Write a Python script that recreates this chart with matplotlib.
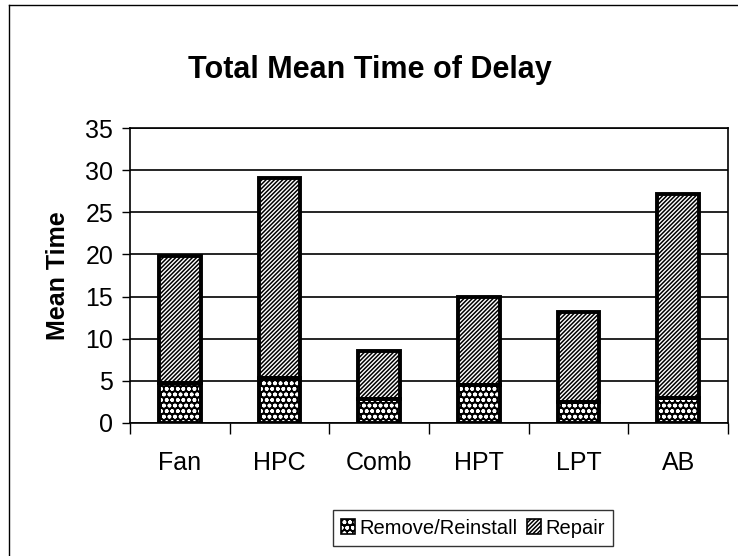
import matplotlib.pyplot as plt
import numpy as np
from matplotlib.lines import Line2D
from matplotlib.patches import Patch
from matplotlib.legend_handler import HandlerTuple

plt.rcParams['font.family'] = ['Liberation Sans', 'DejaVu Sans']
plt.rcParams['hatch.linewidth'] = 1.1

# --- Data ---
categories = ["Fan", "HPC", "Comb", "HPT", "LPT", "AB"]
remove_reinstall = [4.7, 5.3, 2.8, 4.5, 2.5, 3.0]
repair = [15.1, 23.8, 5.7, 10.5, 10.7, 24.2]

fig = plt.figure(figsize=(7.38, 5.56), dpi=100)
ax = fig.add_axes([130 / 738, 1 - 423 / 556, (728 - 130) / 738, (423 - 128) / 556])

x = np.arange(len(categories))
width = 0.42
# wavy-looking fill: white pattern on black, then black outline on top
ax.bar(x, remove_reinstall, width, color="black", edgecolor="white",
       linewidth=0, hatch="ooo", zorder=3)
ax.bar(x, remove_reinstall, width, fill=False, edgecolor="black",
       linewidth=2.8, zorder=4)
ax.bar(x, repair, width, bottom=remove_reinstall, color="white",
       edgecolor="black", linewidth=2.8, hatch="////////", zorder=3)

ax.set_xlim(-0.5, len(categories) - 0.5)
ax.set_ylim(0, 35)
ax.set_yticks(range(0, 36, 5))
ax.yaxis.grid(True, color="black", linewidth=1.2)
ax.set_axisbelow(True)

ax.set_xticks(x)
ax.set_xticklabels(categories, fontsize=18)
ax.tick_params(axis="x", length=0, pad=20)
# category boundary ticks
ax.set_xticks(np.arange(-0.5, len(categories), 1), minor=True)
ax.tick_params(axis="x", which="minor", length=8, width=1, direction="out")
ax.tick_params(axis="y", labelsize=18, length=6, width=1, direction="out", pad=6)

for s in ax.spines.values():
    s.set_linewidth(1.2)

ax.set_ylabel("Mean Time", fontsize=18, fontweight="bold", labelpad=11)
fig.text(370 / 738, 1 - 70 / 556, "Total Mean Time of Delay", ha="center",
         va="center", fontsize=22, fontweight="bold")

rr_handle = (Patch(facecolor="black", edgecolor="white", hatch="ooo", linewidth=0),
             Patch(fill=False, edgecolor="black", linewidth=1.2))
rep_handle = Patch(facecolor="white", edgecolor="black", hatch="////////", linewidth=1.2)
leg = fig.legend(handles=[rr_handle, rep_handle], labels=["Remove/Reinstall", "Repair"],
                 handler_map={tuple: HandlerTuple(ndivide=1, pad=0)},
                 loc="center", ncol=2,
                 bbox_to_anchor=(473 / 738, 1 - 528 / 556), fontsize=14.5,
                 frameon=True, fancybox=False, edgecolor="black",
                 handlelength=0.7, handleheight=0.7, handletextpad=0.2,
                 columnspacing=0.5, borderpad=0.4, borderaxespad=0)
leg.get_frame().set_linewidth(1.0)

# outer chart frame
fig.add_artist(Line2D([9 / 738, 1], [1 - 5 / 556, 1 - 5 / 556], color="black",
                      linewidth=1.0, transform=fig.transFigure))
fig.add_artist(Line2D([9 / 738, 9 / 738], [0, 1 - 5 / 556], color="black",
                      linewidth=1.0, transform=fig.transFigure))

fig.savefig("out.png", dpi=100)
